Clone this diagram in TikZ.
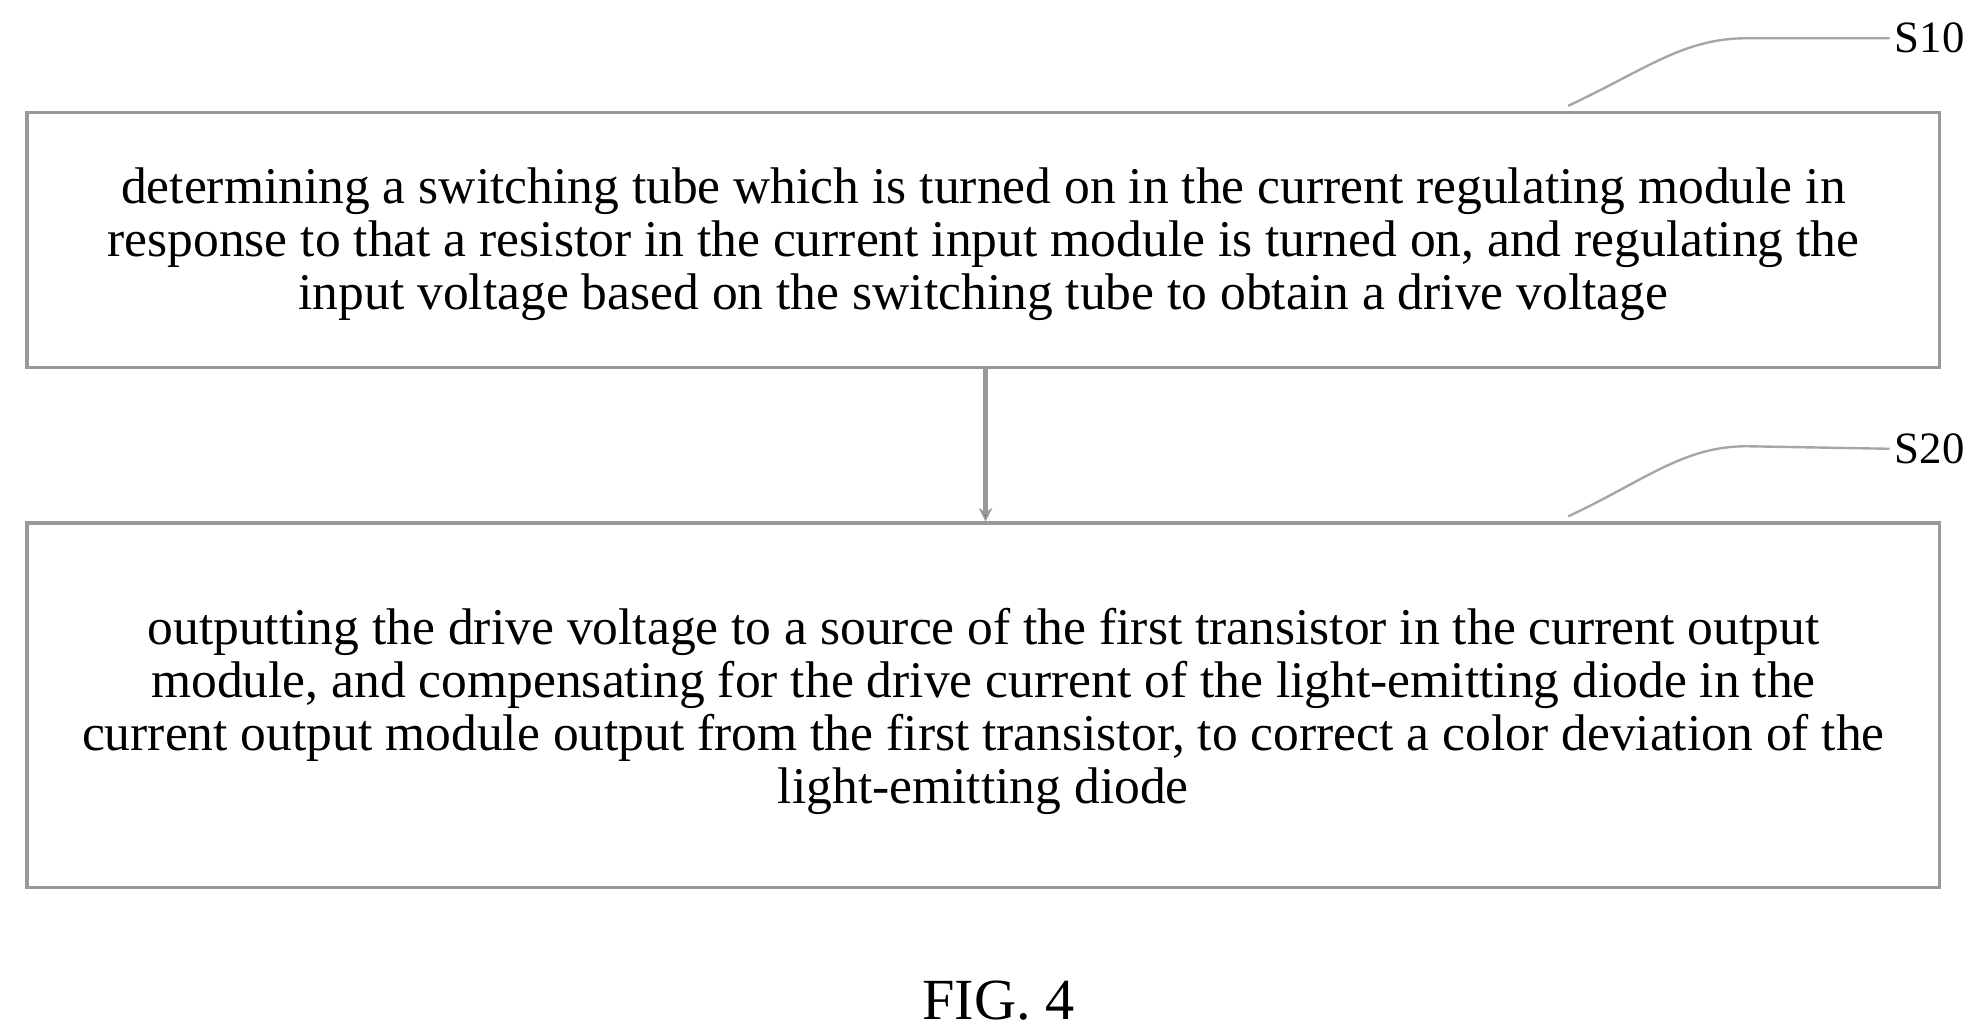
\documentclass[tikz,border=0pt]{standalone}
\usepackage{fontspec}
\setmainfont{Liberation Serif}
\usetikzlibrary{arrows.meta}
\begin{document}
\begin{tikzpicture}[x=0.03cm,y=-0.03cm,
  box/.style={draw=gray!80,line width=2.2pt,inner sep=0pt},
  txt/.style={align=center,font=\fontsize{34.5}{35.5}\selectfont},
  lead/.style={draw=gray!70,line width=1.6pt}]
\useasboundingbox (0,0) rectangle (1553,810);
\node[box,minimum width=1500*0.03cm,minimum height=200*0.03cm,anchor=north west] (b1) at (20,87) {};
\node[txt] (t1) at ([yshift=-0.1cm]b1.center) {determining a switching tube which is turned on in the current regulating module in\\response to that a resistor in the current input module is turned on, and regulating the\\input voltage based on the switching tube to obtain a drive voltage};
\node[box,minimum width=1500*0.03cm,minimum height=286*0.03cm,anchor=north west] (b2) at (20,409) {};
\node[txt] (t2) at ([yshift=-0.15cm]b2.center) {outputting the drive voltage to a source of the first transistor in the current output\\module, and compensating for the drive current of the light-emitting diode in the\\current output module output from the first transistor, to correct a color deviation of the\\light-emitting diode};
\draw[draw=gray!80,line width=3pt,-{Stealth[length=9pt,width=9pt,fill=black]}] (b1.south -| 773,0) -- (b2.north -| 773,0);
\node[txt,anchor=west,font=\fontsize{30}{36}\selectfont] (s10) at (1482,30) {S10};
\node[txt,anchor=west,font=\fontsize{30}{36}\selectfont] (s20) at (1482,352) {S20};
\coordinate (c1) at (1230,83);
\coordinate (c2) at (1230,405);
\draw[lead] (c1) .. controls (1290,55) and (1320,30) .. (1370,30) -- (s10.west);
\draw[lead] (c2) .. controls (1290,377) and (1320,350) .. (1370,350) -- (s20.west);
\node[txt,font=\fontsize{39}{44}\selectfont] (fig) at (783,785) {FIG. 4};
\end{tikzpicture}
\end{document}
